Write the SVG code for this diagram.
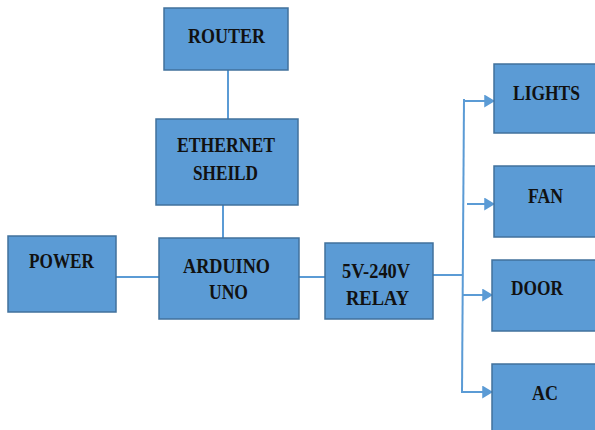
<svg xmlns="http://www.w3.org/2000/svg" width="595" height="430" viewBox="0 0 595 430">
<defs>
<style>
.box{fill:#5B9BD5;stroke:#41719C;stroke-width:1.5}
.lbl{font-family:"Liberation Serif","Times New Roman",serif;font-weight:bold;font-size:21px;fill:#111}
.ln{stroke:#5B9BD5;stroke-width:2;fill:none}
</style>
<marker id="ah" viewBox="0 0 10 12" refX="9" refY="6" markerWidth="5.5" markerHeight="6.5" orient="auto" markerUnits="strokeWidth">
<path d="M0,0 L10,6 L0,12 z" fill="#5B9BD5"/>
</marker>
</defs>
<rect width="595" height="430" fill="#fff"/>
<g id="connectors">
<line class="ln" x1="228" y1="70" x2="228" y2="119"/>
<line class="ln" x1="223" y1="205" x2="223" y2="238"/>
<line class="ln" x1="116" y1="277" x2="159" y2="277"/>
<line class="ln" x1="299" y1="277" x2="325" y2="277"/>
<line class="ln" x1="433" y1="275" x2="463" y2="275"/>
<line class="ln" x1="464" y1="99" x2="462" y2="393"/>
<line class="ln" x1="463" y1="101" x2="494" y2="101" marker-end="url(#ah)"/>
<line class="ln" x1="467" y1="204" x2="494" y2="204" marker-end="url(#ah)"/>
<line class="ln" x1="462" y1="295" x2="492" y2="295" marker-end="url(#ah)"/>
<line class="ln" x1="462" y1="392" x2="492" y2="392" marker-end="url(#ah)"/>
</g>
<g id="router">
<rect class="box" x="164" y="8" width="124" height="62"/>
<text class="lbl" x="188" y="43" textLength="77" lengthAdjust="spacingAndGlyphs">ROUTER</text>
</g>
<g id="ethernet">
<rect class="box" x="156" y="119" width="142" height="86"/>
<text class="lbl" x="177" y="152" textLength="98" lengthAdjust="spacingAndGlyphs">ETHERNET</text>
<text class="lbl" x="193" y="180" textLength="65" lengthAdjust="spacingAndGlyphs">SHEILD</text>
</g>
<g id="power">
<rect class="box" x="8" y="236" width="108" height="76"/>
<text class="lbl" x="29" y="268" textLength="65" lengthAdjust="spacingAndGlyphs">POWER</text>
</g>
<g id="arduino">
<rect class="box" x="159" y="238" width="140" height="81"/>
<text class="lbl" x="183" y="273" textLength="87" lengthAdjust="spacingAndGlyphs">ARDUINO</text>
<text class="lbl" x="209" y="299" textLength="39" lengthAdjust="spacingAndGlyphs">UNO</text>
</g>
<g id="relay">
<rect class="box" x="325" y="243" width="108" height="76"/>
<text class="lbl" x="342" y="278" textLength="68" lengthAdjust="spacingAndGlyphs">5V-240V</text>
<text class="lbl" x="346" y="305" textLength="63" lengthAdjust="spacingAndGlyphs">RELAY</text>
</g>
<g id="lights">
<rect class="box" x="494" y="64" width="110" height="69"/>
<text class="lbl" x="513" y="100" textLength="67" lengthAdjust="spacingAndGlyphs">LIGHTS</text>
</g>
<g id="fan">
<rect class="box" x="494" y="166" width="110" height="71"/>
<text class="lbl" x="528" y="203" textLength="35" lengthAdjust="spacingAndGlyphs">FAN</text>
</g>
<g id="door">
<rect class="box" x="492" y="260" width="112" height="71"/>
<text class="lbl" x="511" y="295" textLength="52" lengthAdjust="spacingAndGlyphs">DOOR</text>
</g>
<g id="ac">
<rect class="box" x="492" y="364" width="112" height="76"/>
<text class="lbl" x="532" y="400" textLength="26" lengthAdjust="spacingAndGlyphs">AC</text>
</g>
</svg>
